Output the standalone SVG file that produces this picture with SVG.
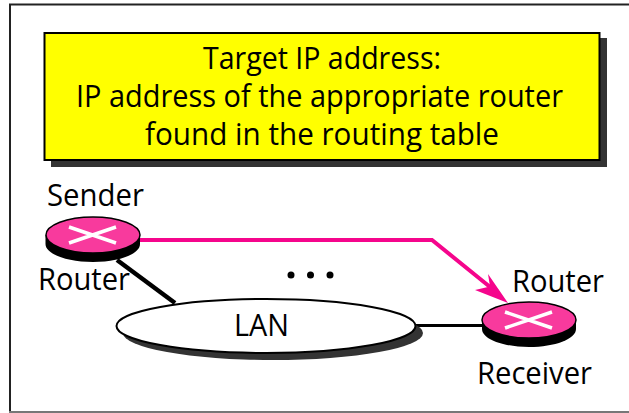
<svg xmlns="http://www.w3.org/2000/svg" width="629" height="413" viewBox="0 0 629 413">
<style>
text{font-family:"Open Sans","Noto Sans","Liberation Sans",sans-serif;fill:#000}
.t{font-size:31px}
.l{font-size:30.500px}
.x{stroke:#fff;stroke-width:3.500;fill:none}
.r{fill:#f83a9d;stroke:#000;stroke-width:1.500}
</style>
<rect x="0" y="0" width="629" height="413" fill="#fff"/>
<path d="M629 4.500H10V412" fill="none" stroke="#222" stroke-width="2"/>
<path d="M9 412H629" fill="none" stroke="#777" stroke-width="2"/>
<g id="title">
<rect x="51" y="38" width="556" height="129" fill="#333"/>
<rect x="44.500" y="33" width="555" height="127" fill="#ff0" stroke="#000" stroke-width="2"/>
<text class="t" x="203" y="69" textLength="238" lengthAdjust="spacingAndGlyphs">Target IP address:</text>
<text class="t" x="76" y="107" textLength="487" lengthAdjust="spacingAndGlyphs">IP address of the appropriate router</text>
<text class="t" x="145" y="145" textLength="354" lengthAdjust="spacingAndGlyphs">found in the routing table</text>
</g>
<g id="connectors" fill="none">
<path d="M117 260L175 303" stroke="#000" stroke-width="4.500"/>
<path d="M415 325.500H482" stroke="#000" stroke-width="3"/>
<path d="M140 240H432L495 291" stroke="#f5058c" stroke-width="4"/>
<path d="M508 303L475 290L490 286.500L488 274Z" fill="#f5058c"/>
</g>
<g id="lan">
<ellipse cx="273" cy="333" rx="150" ry="27" fill="#333"/>
<ellipse cx="266" cy="326" rx="149.500" ry="27" fill="#fff" stroke="#000" stroke-width="2"/>
<text class="l" x="234" y="336" textLength="55" lengthAdjust="spacingAndGlyphs">LAN</text>
</g>
<g id="sender">
<path d="M45.500 235V244C45.500 254 67 262 93 262S140 254 140 244V235Z" fill="#000"/>
<ellipse class="r" cx="93" cy="235" rx="47" ry="18"/>
<path class="x" d="M69 227L116 243M69 243L116 227"/>
<text class="l" x="47" y="206" textLength="97" lengthAdjust="spacingAndGlyphs">Sender</text>
<text class="l" x="38" y="290" textLength="92" lengthAdjust="spacingAndGlyphs">Router</text>
</g>
<g id="receiver">
<path d="M482 321V329C482 339 503 347 529 347S576 339 576 329V321Z" fill="#000"/>
<ellipse class="r" cx="529" cy="320" rx="47" ry="18"/>
<path class="x" d="M505 312L552 328M505 328L552 312"/>
<text class="l" x="512" y="292" textLength="92" lengthAdjust="spacingAndGlyphs">Router</text>
<text class="l" x="477" y="384" textLength="115" lengthAdjust="spacingAndGlyphs">Receiver</text>
</g>
<g id="dots" fill="#000">
<circle cx="291" cy="275" r="3.500"/>
<circle cx="310.500" cy="275" r="3.500"/>
<circle cx="330" cy="275" r="3.500"/>
</g>
</svg>
